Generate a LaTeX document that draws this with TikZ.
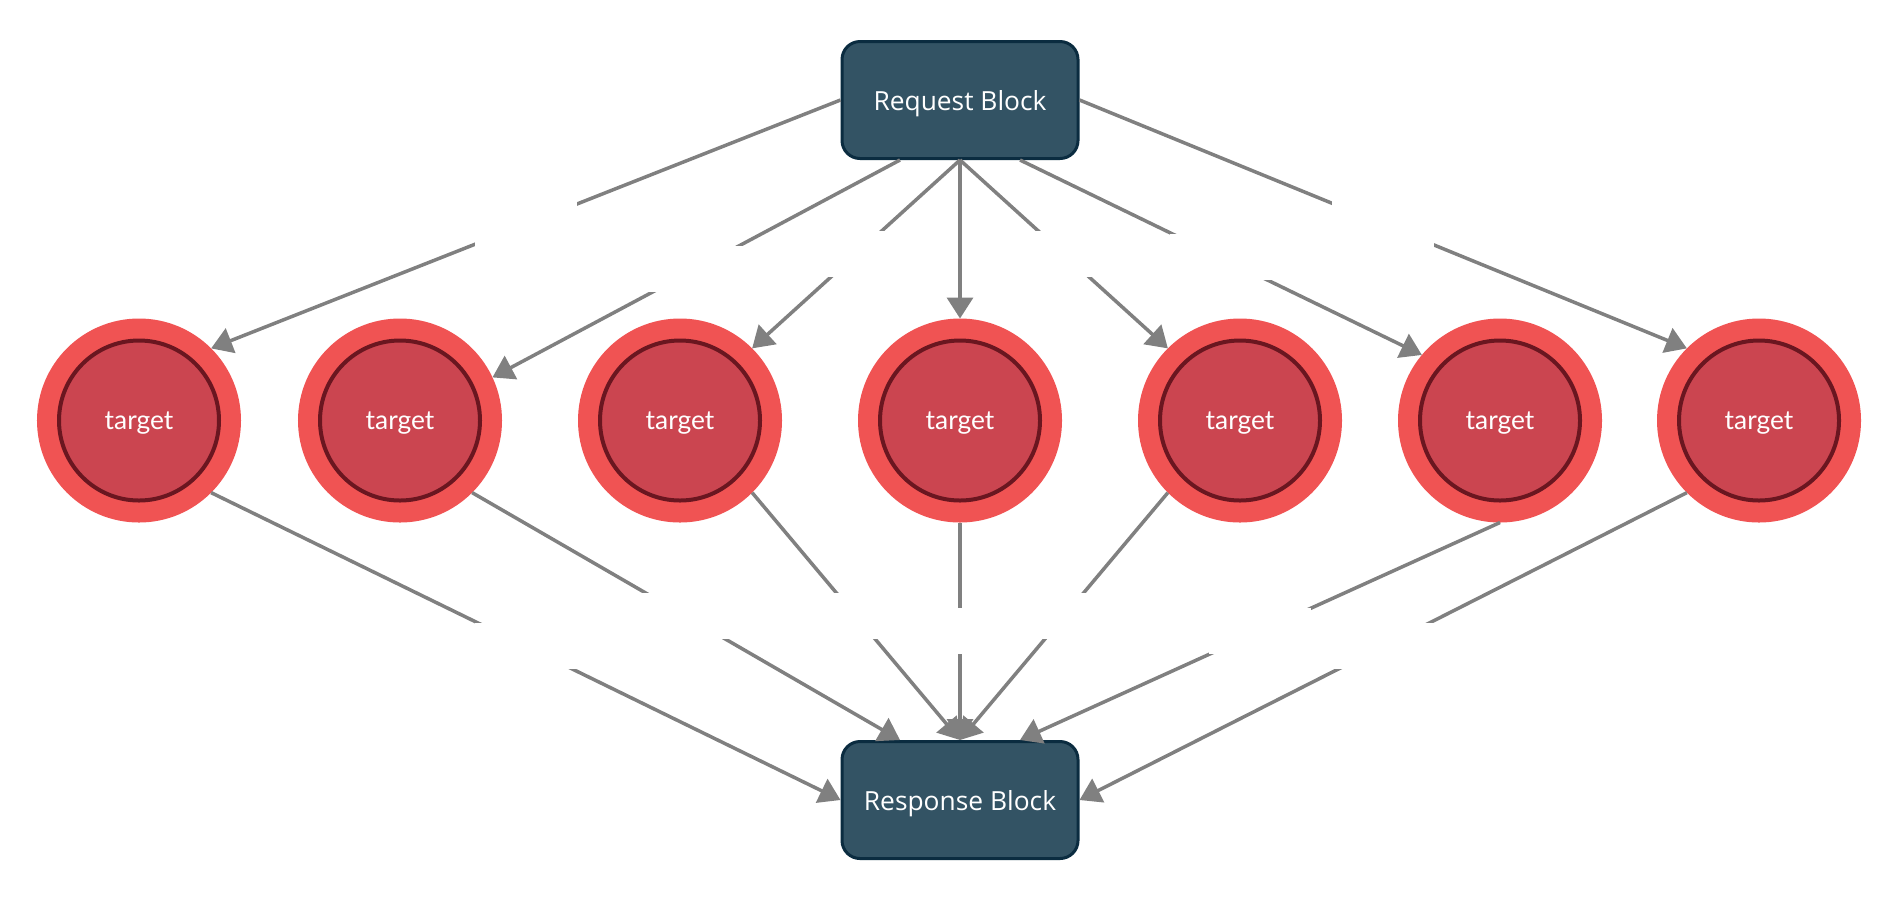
\documentclass[tikz,border=0pt]{standalone}
\usepackage{fontspec}
\setmainfont{Open Sans}
\newfontfamily\latofont{Lato}
\usetikzlibrary{arrows.meta}

\definecolor{blockfill}{HTML}{335364}
\definecolor{blockline}{HTML}{0B2C40}
\definecolor{targetring}{HTML}{F05353}
\definecolor{targetfill}{HTML}{CB4550}
\definecolor{targetline}{HTML}{6A1620}
\definecolor{linkgray}{HTML}{808080}

\tikzset{
    block/.style={rectangle, rounded corners=0.18cm, draw=blockline, line width=0.03cm,
        fill=blockfill, text=white, minimum width=2.36cm, minimum height=1.17cm,
        text depth=0pt, font=\fontsize{7.5}{9}\selectfont},
    target/.style={circle, minimum size=1.6cm, inner sep=0pt, fill=targetfill,
        draw=targetline, line width=0.04cm, preaction={draw=targetring, line width=0.44cm},
        outer sep=0.22cm, text=white, text depth=0pt, font=\latofont\fontsize{7.5}{9}\selectfont},
    link/.style={draw=linkgray, line width=0.035cm, -{Triangle[length=0.21cm,width=0.26cm]}},
    gap/.style={fill=white, minimum width=1.02cm, minimum height=0.46cm, inner sep=0pt}
}

\begin{document}
\begin{tikzpicture}
    \useasboundingbox (0,0) rectangle (19,-9);

    % nodes
    \node (req) at (9.6,-1.00) [block] {Request Block};
    \node (res) at (9.6,-8.00) [block] {Response Block};
    \node (t1) at (1.39,-4.205) [target] {target};
    \node (t2) at (4.00,-4.205) [target] {target};
    \node (t3) at (6.80,-4.205) [target] {target};
    \node (t4) at (9.60,-4.205) [target] {target};
    \node (t5) at (12.40,-4.205) [target] {target};
    \node (t6) at (15.00,-4.205) [target] {target};
    \node (t7) at (17.59,-4.205) [target] {target};

    % paths
    \draw[link] (req.west) -- node[gap] {} (t1.45); % req -> t1
    \draw[link] ([xshift=-0.6cm]req.south) -- node[gap] {} (t2.25); % req -> t2
    \draw[link] (req.south) -- node[gap] {} (t3.45); % req -> t3
    \draw[link] (req.south) -- (t4.north); % req -> t4
    \draw[link] (req.south) -- node[gap] {} (t5.135); % req -> t5
    \draw[link] ([xshift=0.6cm]req.south) -- node[gap] {} (t6.140); % req -> t6
    \draw[link] (req.east) -- node[gap] {} (t7.135); % req -> t7

    \draw[link] (t1.-45) -- node[gap] {} (res.west); % t1 -> res
    \draw[link] (t2.-45) -- node[gap] {} ([xshift=-0.6cm]res.north); % t2 -> res
    \draw[link] (t3.-45) -- node[gap] {} (res.north); % t3 -> res
    \draw[link] (t4.south) -- node[gap] {} (res.north); % t4 -> res
    \draw[link] (t5.-135) -- node[gap] {} (res.north); % t5 -> res
    \draw[link] (t6.south) -- node[gap] {} ([xshift=0.6cm]res.north); % t6 -> res
    \draw[link] (t7.-135) -- node[gap] {} (res.east); % t7 -> res

\end{tikzpicture}
\end{document}
